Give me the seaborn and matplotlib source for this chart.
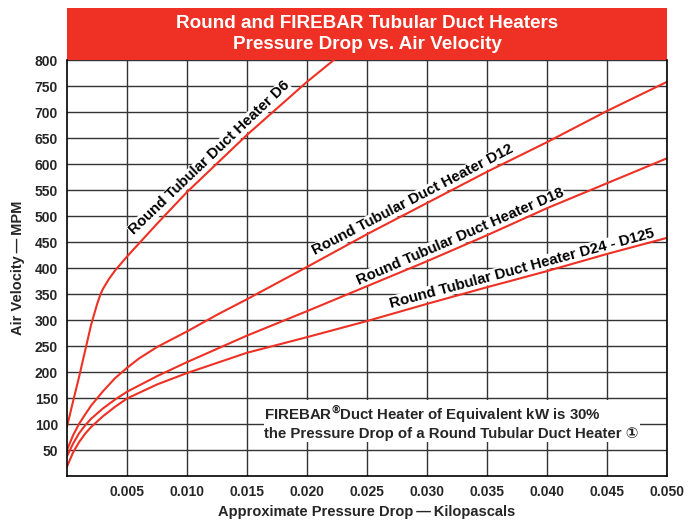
import pandas as pd
import numpy as np
import matplotlib.pyplot as plt
import seaborn as sns
from matplotlib.patches import Rectangle

# values (pressure drop kPa -> air velocity MPM)
d6_x = [0, 0.0005, 0.001, 0.0015, 0.002, 0.0025, 0.0028, 0.003, 0.0035, 0.004, 0.005, 0.0075, 0.010, 0.015, 0.020, 0.0225]
d6_y = [95, 143, 190, 240, 290, 330, 350, 360, 379, 395, 422, 485, 546, 656, 758, 805]

d12_x = [0, 0.0005, 0.001, 0.0015, 0.002, 0.003, 0.004, 0.005, 0.006, 0.0075, 0.010, 0.0125, 0.015, 0.020, 0.025, 0.030, 0.035, 0.040, 0.045, 0.050]
d12_y = [50, 78, 100, 118, 135, 163, 188, 208, 226, 248, 278, 310, 340, 402, 465, 525, 585, 642, 702, 758]

d18_x = [0, 0.0005, 0.001, 0.0015, 0.002, 0.003, 0.004, 0.005, 0.0075, 0.010, 0.015, 0.020, 0.025, 0.030, 0.035, 0.040, 0.045, 0.050]
d18_y = [38, 62, 82, 97, 110, 130, 147, 162, 192, 219, 270, 317, 365, 413, 463, 515, 563, 611]

d24_x = [0, 0.0005, 0.001, 0.0015, 0.002, 0.003, 0.004, 0.005, 0.0075, 0.010, 0.015, 0.020, 0.025, 0.030, 0.035, 0.040, 0.045, 0.050]
d24_y = [18, 45, 65, 81, 94, 115, 133, 149, 176, 198, 237, 267, 298, 331, 363, 394, 427, 458]

series_names = ['Round Tubular Duct Heater D6', 'Round Tubular Duct Heater D12',
                'Round Tubular Duct Heater D18', 'Round Tubular Duct Heater D24 - D125']
# x position (kPa) of the middle of each curve label
label_x = [0.0124, 0.0292, 0.0331, 0.0381]

x_ticks = [0.005, 0.010, 0.015, 0.020, 0.025, 0.030, 0.035, 0.040, 0.045, 0.050]
y_ticks = [50, 100, 150, 200, 250, 300, 350, 400, 450, 500, 550, 600, 650, 700, 750, 800]

RED = '#EE3124'


def build_frame():
    frames = []
    for name, xs, ys in zip(series_names, [d6_x, d12_x, d18_x, d24_x], [d6_y, d12_y, d18_y, d24_y]):
        frames.append(pd.DataFrame({'kpa': xs, 'mpm': ys, 'heater': name}))
    return pd.concat(frames, ignore_index=True)


def label_curve(ax, name, xs, ys, lx):
    # put the label just above the curve, turned to follow it
    ly = np.interp(lx, xs, ys)
    dx = 0.002
    p0 = ax.transData.transform((lx - dx, np.interp(lx - dx, xs, ys)))
    p1 = ax.transData.transform((lx + dx, np.interp(lx + dx, xs, ys)))
    ang = np.degrees(np.arctan2(p1[1] - p0[1], p1[0] - p0[0]))
    off = 1.5
    ax.annotate(name, (lx, ly), xytext=(-np.sin(np.radians(ang)) * off, np.cos(np.radians(ang)) * off),
                textcoords='offset points', rotation=ang, rotation_mode='anchor',
                ha='center', va='bottom', fontsize=10.8, fontweight='bold', color='black',
                zorder=1.8, bbox=dict(facecolor='white', edgecolor='none', pad=0.3))


df = build_frame()

sns.set_style('white')
plt.rcParams['font.family'] = ['Liberation Sans', 'DejaVu Sans']
plt.rcParams['font.weight'] = 'bold'

fig = plt.figure(figsize=(6.91, 5.21), dpi=100)
ax = fig.add_axes([67 / 691, 45 / 521, 600 / 691, 416 / 521])

sns.lineplot(data=df, x='kpa', y='mpm', hue='heater', palette=[RED] * 4,
             sort=False, estimator=None, linewidth=1.5, legend=False, ax=ax)

ax.set_xlim(0, 0.050)
ax.set_ylim(0, 800)
ax.set_xticks(x_ticks)
ax.set_xticklabels([f'{v:.3f}' for v in x_ticks])
ax.set_yticks(y_ticks)
ax.set_yticklabels([str(v) for v in y_ticks])
ax.grid(True, color='#333333', linewidth=1)
ax.set_axisbelow(True)
ax.tick_params(axis='both', labelsize=10, length=3, width=1, color='#333333')
for lab in ax.get_xticklabels() + ax.get_yticklabels():
    lab.set_fontweight('bold')
for side in ['left', 'bottom', 'right']:
    ax.spines[side].set_color('black')
    ax.spines[side].set_linewidth(1.2)
ax.spines['top'].set_visible(False)

ax.set_xlabel('Approximate Pressure Drop\u2009\u2014\u2009Kilopascals', fontsize=10.5, fontweight='bold', labelpad=4)
ax.set_ylabel('Air Velocity\u2009\u2014\u2009MPM', fontsize=10.5, fontweight='bold', labelpad=7)

for name, xs, ys, lx in zip(series_names, [d6_x, d12_x, d18_x, d24_x], [d6_y, d12_y, d18_y, d24_y], label_x):
    label_curve(ax, name, xs, ys, lx)

# note
ax.text(0.01645, 104, 'FIREBAR$^{\\circledR}\\!$Duct Heater of Equivalent kW is 30%\nthe Pressure Drop of a Round Tubular Duct Heater \u2460',
        ha='left', va='center', fontsize=10.8, fontweight='bold', linespacing=1.2,
        bbox=dict(facecolor='white', edgecolor='none', pad=0.5))

# red title band
band_h = 52 / 416
ax.add_patch(Rectangle((0, 1), 1, band_h, transform=ax.transAxes, facecolor=RED,
                       edgecolor='none', clip_on=False))
ax.text(0.5, 1 + band_h / 2, 'Round and FIREBAR Tubular Duct Heaters\nPressure Drop vs. Air Velocity',
        transform=ax.transAxes, ha='center', va='center', color='white', fontsize=13.6,
        fontweight='bold', linespacing=1.35)

plt.savefig('out.png', dpi=100)
